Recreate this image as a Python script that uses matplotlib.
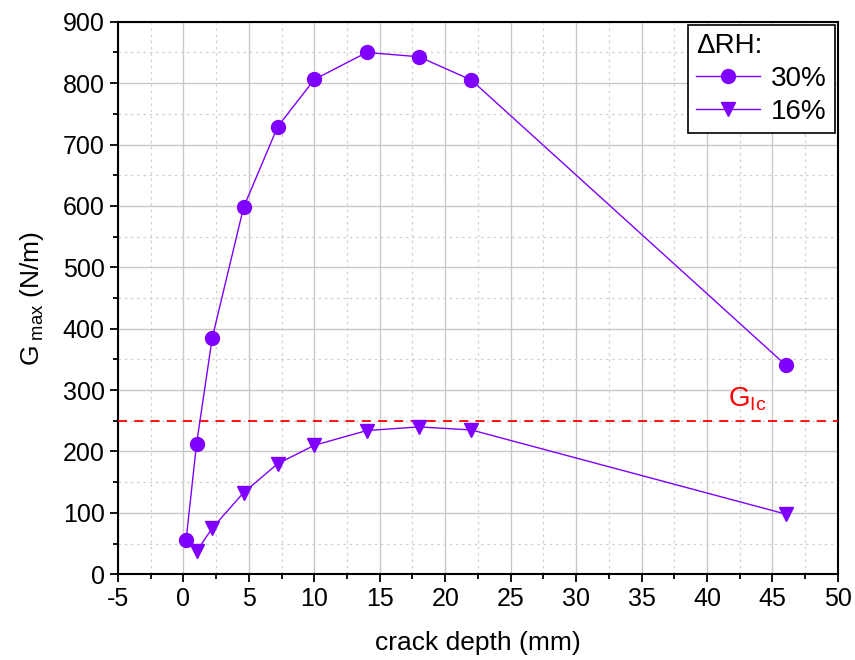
import matplotlib

matplotlib.use("Agg")
import matplotlib.pyplot as plt
from matplotlib.ticker import MultipleLocator

plt.rcParams["font.family"] = ["Liberation Sans", "DejaVu Sans"]
plt.rcParams["mathtext.fontset"] = "custom"
plt.rcParams["mathtext.rm"] = "Liberation Sans"
plt.rcParams["mathtext.it"] = "Liberation Sans"
plt.rcParams["axes.unicode_minus"] = False

# crack depth (mm) and G_max (N/m)
depth_30 = [0.2, 1.0, 2.2, 4.6, 7.2, 10, 14, 18, 22, 46]
gmax_30 = [55, 212, 385, 598, 729, 806, 850, 843, 805, 341]
depth_16 = [1.0, 2.2, 4.6, 7.2, 10, 14, 18, 22, 46]
gmax_16 = [37, 75, 133, 180, 210, 234, 240, 235, 98]
g_ic = 250

purple = "#8000FF"

fig = plt.figure(figsize=(8.55, 6.6), dpi=100)
ax = fig.add_axes([0.138, 0.130, 0.842, 0.837])

ax.plot(depth_30, gmax_30, color=purple, lw=1.0, marker="o", ms=10, label="30%", zorder=4)
ax.plot(depth_16, gmax_16, color=purple, lw=1.0, marker="v", ms=10, label="16%", zorder=4)
ax.axhline(g_ic, color="red", lw=1.3, ls=(0, (5, 4)), zorder=3)
ax.text(41.6, 262, r"G$_{\mathregular{Ic}}$", color="red", fontsize=20, ha="left", va="bottom")

ax.set_xlim(-5, 50)
ax.set_ylim(0, 900)
ax.xaxis.set_major_locator(MultipleLocator(5))
ax.xaxis.set_minor_locator(MultipleLocator(2.5))
ax.yaxis.set_major_locator(MultipleLocator(100))
ax.yaxis.set_minor_locator(MultipleLocator(50))

ax.grid(which="major", color="#c8c8c8", lw=1.0)
ax.grid(which="minor", color="#d0d0d0", lw=0.9, ls=(0, (2, 3)))
ax.set_axisbelow(True)

ax.tick_params(which="major", direction="out", length=6, width=1.3, labelsize=18,
               top=False, right=False)
ax.tick_params(which="minor", direction="out", length=3.5, width=1.3, top=False, right=False)
for sp in ax.spines.values():
    sp.set_linewidth(1.5)

ax.set_xlabel("crack depth (mm)", fontsize=19, labelpad=14)
ax.set_ylabel(r"G$_{\mathregular{\ max}}$ (N/m)", fontsize=19, labelpad=12)

leg = ax.legend(title="ΔRH:", loc="upper right", fontsize=20, title_fontsize=20,
                frameon=True, fancybox=False, edgecolor="black", framealpha=1,
                handlelength=2.3, handletextpad=0.4, borderpad=0.3, labelspacing=0.25,
                borderaxespad=0.1, alignment="left")
leg.get_frame().set_linewidth(1.2)

fig.savefig("out.png", dpi=100)
